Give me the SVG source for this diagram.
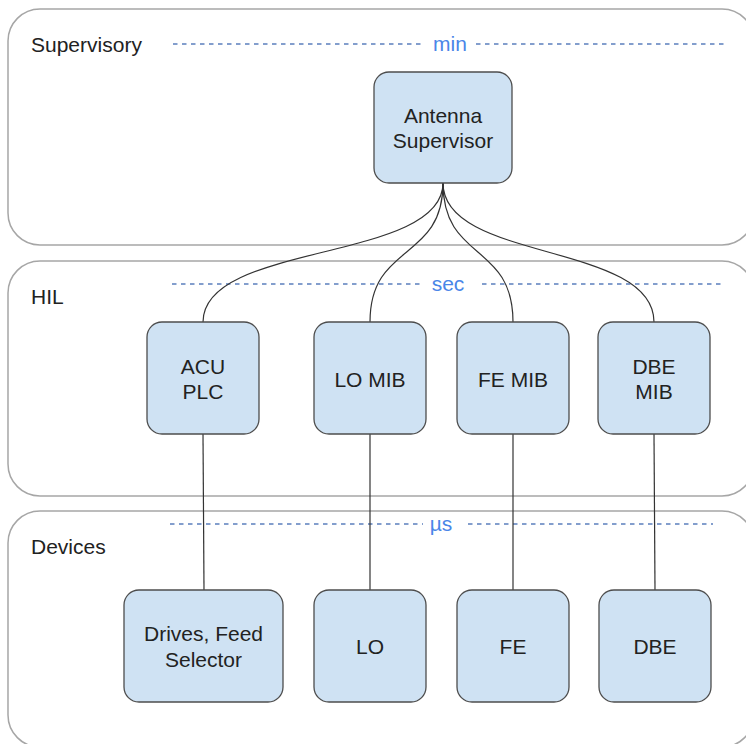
<svg xmlns="http://www.w3.org/2000/svg" width="746" height="744" viewBox="0 0 746 744">
<style>
.panel{fill:#fff;stroke:#a6a6a6;stroke-width:1.5}
.plabel{font-family:"Liberation Sans",Arial,sans-serif;font-size:21px;fill:#222}
.dash{stroke:#5b7fbd;stroke-width:1.3;stroke-dasharray:4.5,4.5;fill:none}
.tlabel{font-family:"Liberation Sans",Arial,sans-serif;font-size:21px;fill:#4a86e8;text-anchor:middle}
.node rect{fill:#cfe2f3;stroke:#4d4d4d;stroke-width:1.3}
.node text{font-family:"Liberation Sans",Arial,sans-serif;font-size:21px;fill:#222;text-anchor:middle}
.conn path{fill:none;stroke:#333;stroke-width:1.2}
</style>
<g id="panels">
<rect class="panel" x="8" y="9" width="746" height="236" rx="32"/>
<rect class="panel" x="8" y="261" width="746" height="235" rx="32"/>
<rect class="panel" x="8" y="511" width="746" height="236" rx="32"/>
<text class="plabel" x="31" y="52">Supervisory</text>
<text class="plabel" x="31" y="304">HIL</text>
<text class="plabel" x="31" y="554">Devices</text>
<path class="dash" d="M173 44H423M476 44H724"/>
<text class="tlabel" x="450" y="51">min</text>
<path class="dash" d="M172 284H423M482 284H723"/>
<text class="tlabel" x="448" y="291">sec</text>
<path class="dash" d="M170 524H423M468 524H713"/>
<text class="tlabel" x="441" y="531">µs</text>
</g>
<g id="connectors" class="conn">
<path d="M443 183C443 262 203 242 203 322"/>
<path d="M443 183C443 262 370 242 370 322"/>
<path d="M443 183C443 262 513 242 513 322"/>
<path d="M443 183C443 262 654 242 654 322"/>
<path d="M203 434L204 590"/>
<path d="M370 434V590"/>
<path d="M513 434V590"/>
<path d="M654 434L655 590"/>
</g>
<g id="antenna-supervisor" class="node">
<rect x="374" y="72" width="138" height="111" rx="15"/>
<text x="443" y="123">Antenna</text>
<text x="443" y="148">Supervisor</text>
</g>
<g id="acu-plc" class="node">
<rect x="147" y="322" width="112" height="112" rx="15"/>
<text x="203" y="374">ACU</text>
<text x="203" y="399">PLC</text>
</g>
<g id="lo-mib" class="node">
<rect x="314" y="322" width="112" height="112" rx="15"/>
<text x="370" y="387">LO MIB</text>
</g>
<g id="fe-mib" class="node">
<rect x="457" y="322" width="112" height="112" rx="15"/>
<text x="513" y="387">FE MIB</text>
</g>
<g id="dbe-mib" class="node">
<rect x="598" y="322" width="112" height="112" rx="15"/>
<text x="654" y="374">DBE</text>
<text x="654" y="399">MIB</text>
</g>
<g id="drives" class="node">
<rect x="124" y="590" width="159" height="112" rx="15"/>
<text x="203.5" y="641">Drives, Feed</text>
<text x="203.5" y="667">Selector</text>
</g>
<g id="lo" class="node">
<rect x="314" y="590" width="112" height="112" rx="15"/>
<text x="370" y="654">LO</text>
</g>
<g id="fe" class="node">
<rect x="457" y="590" width="112" height="112" rx="15"/>
<text x="513" y="654">FE</text>
</g>
<g id="dbe" class="node">
<rect x="599" y="590" width="112" height="112" rx="15"/>
<text x="655" y="654">DBE</text>
</g>
</svg>
